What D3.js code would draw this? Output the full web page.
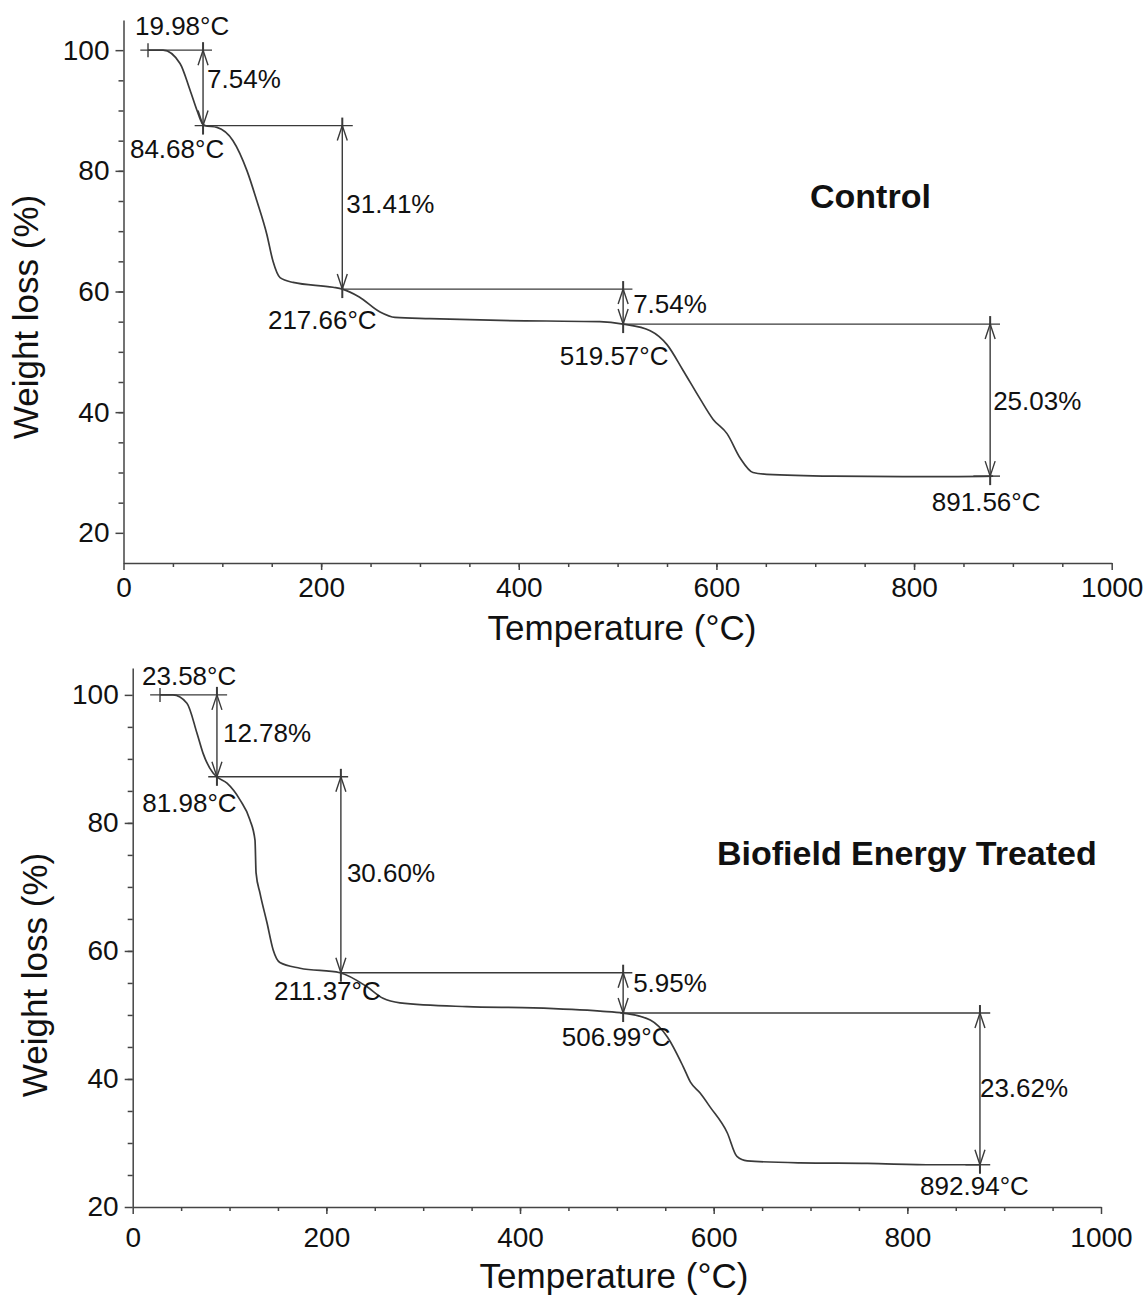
<!DOCTYPE html>
<html>
<head>
<meta charset="utf-8">
<script src="https://d3js.org/d3.v7.min.js"></script>
<style>
	body { margin: 0; background: #fff; }
	svg { display: block; font-family: "Liberation Sans", Arial, sans-serif; }
	.axis path, .axis line { stroke: #444; stroke-width: 1.5; }
	.axis text { font-size: 28px; fill: #111; font-family: "Liberation Sans", Arial, sans-serif; }
	.curve { fill: none; stroke: #3a3a3a; stroke-width: 1.7; }
	.mark { fill: none; stroke: #3a3a3a; stroke-width: 1.4; }
	.note { font-size: 26px; fill: #111; }
	.axis-title { font-size: 35px; fill: #111; }
	.title { font-size: 34px; font-weight: bold; fill: #111; }
</style>
</head>
<body>
<div id="chart"></div>
<script>
// axis ticks
var tempTicks = [0, 200, 400, 600, 800, 1000];
var weightTicks = [20, 40, 60, 80, 100];

// Control: TGA curve (temperature in °C, weight in %)
var controlTemp = [24.8, 40, 57.2, 67.3, 74.4, 79.5, 82.5, 94.6, 110.8, 125, 135, 145, 151.3, 158.4, 171.6, 212, 221.4, 238.6, 259.6, 274.8, 310, 381, 482, 505.6, 533, 550, 566, 583.5, 596.7, 610.9, 624, 637, 651, 718, 819, 880];
var controlWeight = [100, 100, 97.8, 93.4, 90, 87.9, 87.5, 87.2, 85, 80, 75, 69.5, 65, 62.3, 61.5, 60.7, 60.4, 59.1, 56.6, 55.7, 55.5, 55.2, 55.0, 54.6, 53.5, 51.2, 47, 42.2, 38.8, 36.4, 32.4, 30, 29.7, 29.4, 29.3, 29.4];
var controlStart = 24.8;
var controlLevels = [100, 87.5, 60.4, 54.6, 29.4];
var controlArrowTemp = [80.5, 221.4, 505.6, 877];
var controlSpans = [[17, 89.6], [72, 232], [221.4, 515], [505.6, 887], [860, 887]];
var controlLossLabels = ['7.54%', '31.41%', '7.54%', '25.03%'];
var controlTempLabels = ['19.98°C', '84.68°C', '217.66°C', '519.57°C', '891.56°C'];

// Biofield Energy Treated
var treatedTemp = [28.2, 41.6, 56, 66.4, 72.6, 83, 87, 97.4, 110.8, 121, 126.3, 127.4, 131.5, 138.7, 145, 152, 172.8, 214, 242, 258.5, 276, 345, 413.6, 482.8, 506.5, 534.5, 552, 568.6, 576, 586, 596.4, 614, 624, 634.6, 689.4, 758.6, 827.5, 875];
var treatedWeight = [100, 100, 98.7, 94, 90.9, 87.8, 87.2, 86.2, 83.6, 80.5, 77.3, 72.2, 69, 64.4, 60.2, 58.2, 57.3, 56.6, 54.4, 52.6, 51.9, 51.3, 51.1, 50.6, 50.3, 49.2, 46.6, 41.9, 39.5, 37.8, 35.6, 31.6, 27.9, 27.2, 26.9, 26.8, 26.6, 26.6];
var treatedStart = 28.2;
var treatedLevels = [100, 87.2, 56.6, 50.3, 26.6];
var treatedArrowTemp = [87, 215, 506.5, 875];
var treatedSpans = [[18, 97.5], [78, 222.5], [214, 516], [503.6, 885.6], [860, 885.6]];
var treatedLossLabels = ['12.78%', '30.60%', '5.95%', '23.62%'];
var treatedTempLabels = ['23.58°C', '81.98°C', '211.37°C', '506.99°C', '892.94°C'];

var charts = [
	{
		title: 'Control',
		temp: controlTemp, weight: controlWeight, start: controlStart,
		levels: controlLevels, arrowTemp: controlArrowTemp, spans: controlSpans,
		lossLabels: controlLossLabels, tempLabels: controlTempLabels
	},
	{
		title: 'Biofield Energy Treated',
		temp: treatedTemp, weight: treatedWeight, start: treatedStart,
		levels: treatedLevels, arrowTemp: treatedArrowTemp, spans: treatedSpans,
		lossLabels: treatedLossLabels, tempLabels: treatedTempLabels
	}
];

// where each panel sits on the page, plus label nudges
var layout = [
	{
		left: 123.5, right: 1111.7, top: 20, bottom: 563, yDomain: [15, 105],
		xPad: 7, yTitleX: 38, yTitleY: 317, xTitleX: 622, xTitleY: 640, titleX: 810, titleY: 208,
		startOffset: [-13, -15],
		lossOffsets: [[4, 0], [4, 6], [10, 6], [3, 10]],
		tempOffsets: [[-26, 32], [-20, 40], [-9, 41], [-4, 35]]
	},
	{
		left: 132.7, right: 1101, top: 668, bottom: 1207, yDomain: [20, 104.2],
		xPad: 13, yTitleX: 47, yTitleY: 975, xTitleX: 614, xTitleY: 1288, titleX: 717, titleY: 865,
		startOffset: [-18, -10],
		lossOffsets: [[6, 6], [6, 7], [10, -1], [0, 8]],
		tempOffsets: [[-27.5, 35], [-13.5, 27], [-7, 33], [-5.5, 30]]
	}
];

var svg = d3.select('#chart').append('svg')
	.attr('width', 1144)
	.attr('height', 1295);

svg.append('rect').attr('width', 1144).attr('height', 1295).attr('fill', '#fff');

charts.forEach(function (c, k) {
	drawChart(svg, c, layout[k]);
});

function drawChart(svg, c, f) {

	var x = d3.scaleLinear().domain([0, 1000]).range([f.left, f.right]);
	var y = d3.scaleLinear().domain(f.yDomain).range([f.bottom, f.top]);
	var g = svg.append('g');

	// minor ticks every 50 °C and 5 %
	g.append('g').attr('class', 'axis')
		.attr('transform', 'translate(0,' + f.bottom + ')')
		.call(d3.axisBottom(x).tickValues(d3.range(50, 1000, 50)).tickSize(4).tickFormat(''))
		.call(function (a) { a.select('.domain').remove(); });
	g.append('g').attr('class', 'axis')
		.attr('transform', 'translate(' + x(0) + ',0)')
		.call(d3.axisLeft(y).tickValues(d3.range(25, 100, 5)).tickSize(5).tickFormat(''))
		.call(function (a) { a.select('.domain').remove(); });

	g.append('g').attr('class', 'axis')
		.attr('transform', 'translate(0,' + f.bottom + ')')
		.call(d3.axisBottom(x).tickValues(tempTicks).tickSize(7).tickSizeOuter(0).tickPadding(f.xPad).tickFormat(d3.format('d')));
	g.append('g').attr('class', 'axis')
		.attr('transform', 'translate(' + x(0) + ',0)')
		.call(d3.axisLeft(y).tickValues(weightTicks).tickSize(8).tickSizeOuter(0).tickPadding(6).tickFormat(d3.format('d')));

	// the TGA curve
	var line = d3.line()
		.x(function (d) { return x(d[0]); })
		.y(function (d) { return y(d[1]); })
		.curve(d3.curveMonotoneX);

	g.append('path')
		.attr('class', 'curve')
		.attr('d', line(d3.zip(c.temp, c.weight)));

	// level lines
	c.spans.forEach(function (s, i) {
		g.append('line').attr('class', 'mark')
			.attr('x1', x(s[0])).attr('x2', x(s[1]))
			.attr('y1', y(c.levels[i])).attr('y2', y(c.levels[i]));
	});

	// start marker
	var sx = x(c.start), sy = y(c.levels[0]);
	g.append('line').attr('class', 'mark')
		.attr('x1', sx).attr('x2', sx).attr('y1', sy - 7).attr('y2', sy + 7);
	g.append('text').attr('class', 'note')
		.attr('x', sx + f.startOffset[0]).attr('y', sy + f.startOffset[1])
		.text(c.tempLabels[0]);

	// double arrows between the levels
	c.arrowTemp.forEach(function (t, i) {
		var xa = x(t);
		var y1 = y(c.levels[i]);
		var y2 = y(c.levels[i + 1]);
		var head = Math.min(15, (y2 - y1) / 2);

		g.append('line').attr('class', 'mark')
			.attr('x1', xa).attr('x2', xa).attr('y1', y1).attr('y2', y2);
		g.append('path').attr('class', 'mark')
			.attr('d', 'M' + (xa - 5) + ',' + (y1 + head) + 'L' + xa + ',' + y1 + 'L' + (xa + 5) + ',' + (y1 + head));
		g.append('path').attr('class', 'mark')
			.attr('d', 'M' + (xa - 5) + ',' + (y2 - head) + 'L' + xa + ',' + y2 + 'L' + (xa + 5) + ',' + (y2 - head));

		// cross ticks at both ends
		g.append('line').attr('class', 'mark').style('stroke-width', 2)
			.attr('x1', xa).attr('x2', xa).attr('y1', y1 - 8).attr('y2', y1 + 2);
		g.append('line').attr('class', 'mark').style('stroke-width', 2)
			.attr('x1', xa).attr('x2', xa).attr('y1', y2 - 2).attr('y2', y2 + 9);

		g.append('text').attr('class', 'note')
			.attr('x', xa + f.lossOffsets[i][0])
			.attr('y', (y1 + y2) / 2 + f.lossOffsets[i][1])
			.text(c.lossLabels[i]);

		g.append('text').attr('class', 'note')
			.attr('text-anchor', 'middle')
			.attr('x', xa + f.tempOffsets[i][0])
			.attr('y', y2 + f.tempOffsets[i][1])
			.text(c.tempLabels[i + 1]);
	});

	// titles
	g.append('text').attr('class', 'axis-title')
		.attr('text-anchor', 'middle')
		.attr('x', f.xTitleX).attr('y', f.xTitleY)
		.text('Temperature (°C)');
	g.append('text').attr('class', 'axis-title')
		.attr('text-anchor', 'middle')
		.attr('transform', 'translate(' + f.yTitleX + ',' + f.yTitleY + ') rotate(-90)')
		.text('Weight loss (%)');
	g.append('text').attr('class', 'title')
		.attr('x', f.titleX).attr('y', f.titleY)
		.text(c.title);
}
</script>
</body>
</html>
